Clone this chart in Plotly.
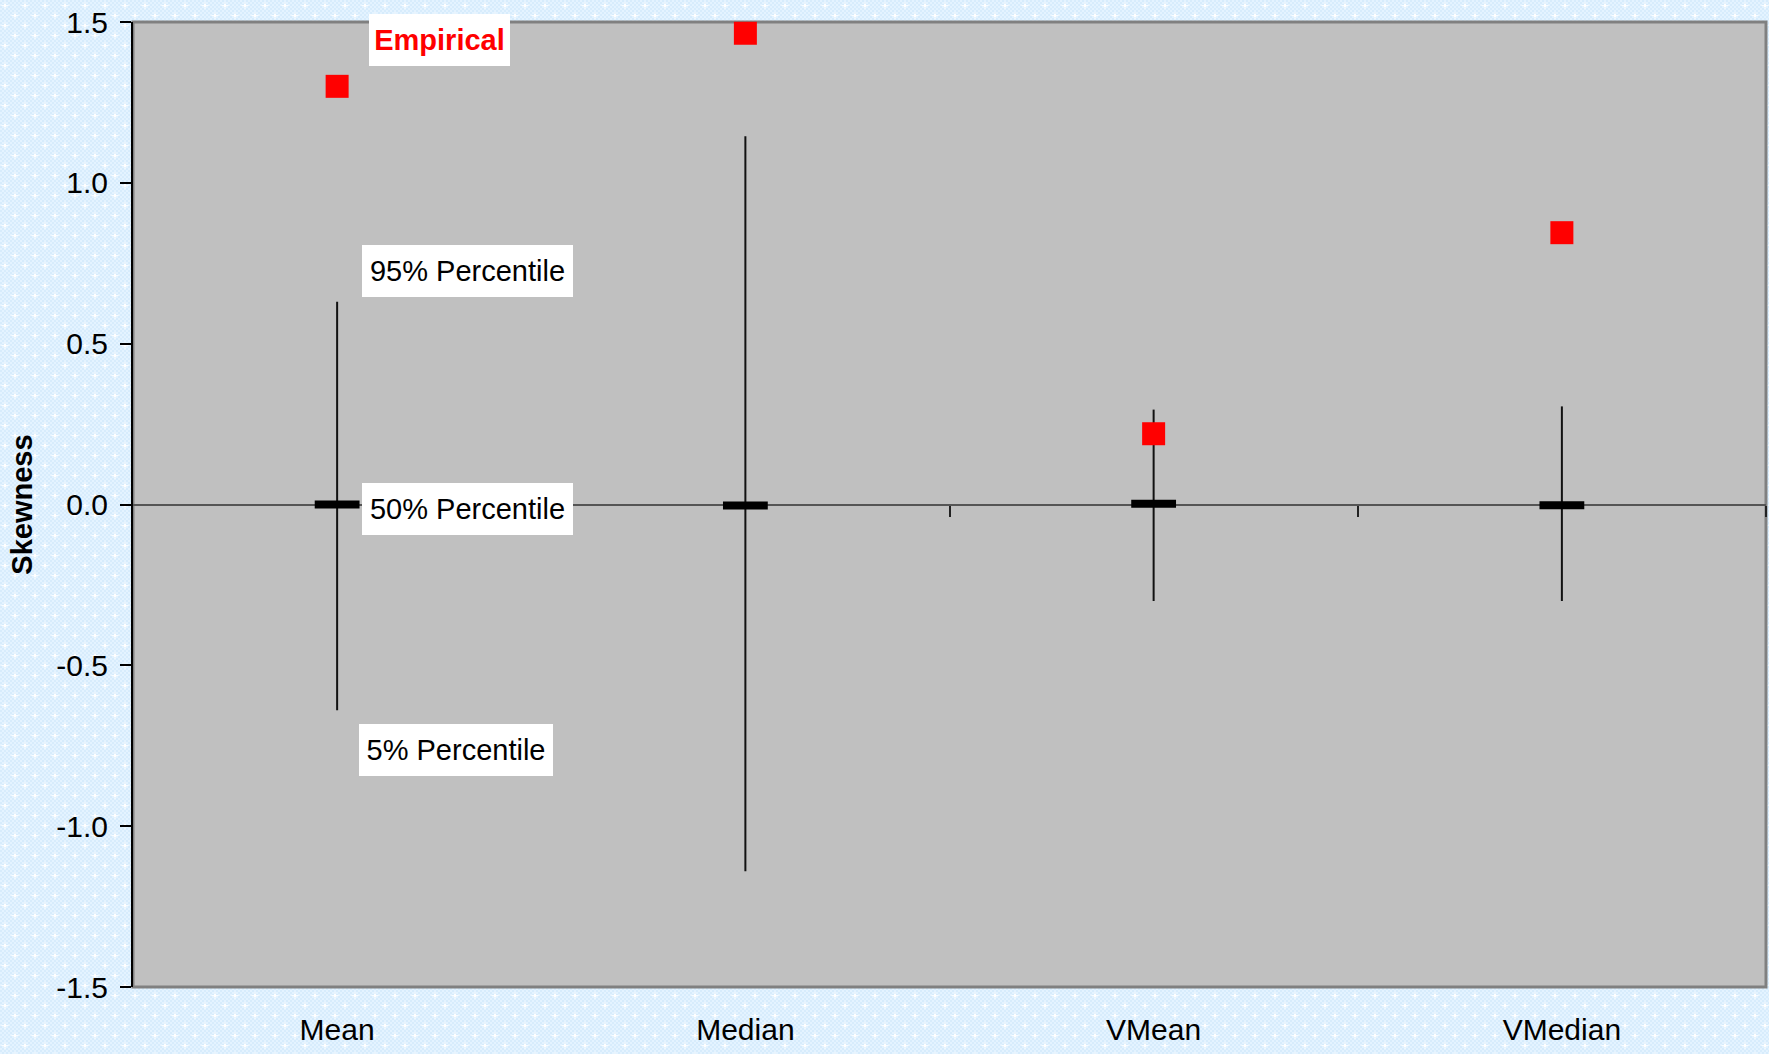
import base64
import plotly.graph_objects as go

# Skewness of the estimators: 5/50/95 % percentiles of the simulated
# distribution, plus the empirical value
categories = ["Mean", "Median", "VMean", "VMedian"]
pct5 = [-0.64, -1.14, -0.30, -0.30]
pct50 = [0.0, -0.003, 0.002, -0.002]
pct95 = [0.63, 1.145, 0.295, 0.305]
empirical = [1.30, 1.465, 0.22, 0.845]

ytick_vals = [-1.5, -1.0, -0.5, 0.0, 0.5, 1.0, 1.5]
ytick_text = ["-1.5", "-1.0", "-0.5", "0.0", "0.5", "1.0", "1.5"]

# free-floating labels (text, x in category units, y in skewness units)
label_text = ["Empirical", "95% Percentile", "50% Percentile", "5% Percentile"]
label_x = [0.25, 0.319, 0.319, 0.29]
label_y = [1.444, 0.727, -0.014, -0.764]

# label box styling
label_color = ["#ff0000", "#000000", "#000000", "#000000"]
label_bold = [True, False, False, False]
label_box_w = [137, 207, 207, 190]

W, H = 1769, 1054
ML, MR, MT, MB = 133, 3, 22, 67
FONT = "Arial, Liberation Sans, sans-serif"

err_up = [hi - md for hi, md in zip(pct95, pct50)]
err_dn = [md - lo for lo, md in zip(pct5, pct50)]

fig = go.Figure()

# percentile range (whisker) with the 50 % percentile as a thick dash
fig.add_trace(go.Scatter(
    x=categories, y=pct50, mode="markers",
    marker=dict(symbol="line-ew", size=32, color="#000000",
                line=dict(width=8, color="#000000")),
    error_y=dict(type="data", symmetric=False, array=err_up,
                 arrayminus=err_dn, width=0, thickness=2, color="#111111"),
    showlegend=False, hoverinfo="skip",
))

# empirical skewness
fig.add_trace(go.Scatter(
    x=categories, y=empirical, mode="markers",
    marker=dict(symbol="square", size=23, color="#ff0000",
                line=dict(width=0)),
    showlegend=False, cliponaxis=False,
))

# light-blue patterned page background
pattern_svg = f'''<svg xmlns="http://www.w3.org/2000/svg" width="{W}" height="{H}">
<defs>
<pattern id="chk" width="4" height="4" patternUnits="userSpaceOnUse">
<rect width="4" height="4" fill="#d7ecfc"/>
<rect width="2" height="2" fill="#e4f3ff"/>
<rect x="2" y="2" width="2" height="2" fill="#e4f3ff"/>
</pattern>
<pattern id="star" width="20" height="20" patternUnits="userSpaceOnUse">
<rect width="20" height="20" fill="url(#chk)"/>
<path d="M5 2v7M1.5 5.5h7M15 12v7M11.5 15.5h7" stroke="#ffffff" stroke-width="1" opacity="0.85"/>
<rect x="4" y="4" width="2" height="3" fill="#ffffff"/>
<rect x="14" y="14" width="2" height="3" fill="#ffffff"/>
</pattern>
</defs>
<rect width="100%" height="100%" fill="url(#star)"/>
</svg>'''
bg_uri = "data:image/svg+xml;base64," + base64.b64encode(pattern_svg.encode()).decode()
pw, ph = W - ML - MR, H - MT - MB
fig.add_layout_image(dict(
    source=bg_uri, xref="paper", yref="paper",
    x=-ML / pw, y=1 + MT / ph, sizex=W / pw, sizey=H / ph,
    xanchor="left", yanchor="top", sizing="stretch", layer="below",
))

# plot area fill and grey frame
fig.add_shape(type="rect", xref="paper", yref="paper", x0=0, x1=1, y0=0, y1=1,
              fillcolor="#c0c0c0", line=dict(color="#808080", width=3),
              layer="below")

for t, x, y, c, b, bw in zip(label_text, label_x, label_y, label_color,
                             label_bold, label_box_w):
    fig.add_annotation(
        x=x, y=y, xref="x", yref="y", showarrow=False,
        text=f"<b>{t}</b>" if b else t,
        font=dict(family=FONT, size=29, color=c),
        width=bw, height=48, align="center", valign="middle",
        bgcolor="#ffffff", borderpad=2, borderwidth=0,
    )

fig.update_layout(
    width=W, height=H,
    margin=dict(l=ML, r=MR, t=MT, b=MB, pad=0),
    paper_bgcolor="#dcefff", plot_bgcolor="rgba(0,0,0,0)",
    font=dict(family=FONT, size=30, color="#000000"),
    showlegend=False,
    xaxis=dict(
        type="category", categoryorder="array", categoryarray=categories,
        range=[-0.5, 3.5], showgrid=False, zeroline=False, showline=False,
        ticks="", ticklabelstandoff=22,
        tickfont=dict(family=FONT, size=30, color="#000000"),
    ),
    # horizontal axis line through zero with ticks between categories
    xaxis2=dict(
        type="linear", overlaying="x", anchor="free", position=0.5,
        range=[-0.5, 3.5], tickvals=[0.5, 1.5, 2.5, 3.5],
        showticklabels=False, ticks="outside", ticklen=11, tickwidth=2,
        tickcolor="#222222", showline=True, linecolor="#555555", linewidth=2,
        showgrid=False, zeroline=False, layer="below traces",
    ),
    yaxis=dict(
        range=[-1.5, 1.5], tickvals=ytick_vals, ticktext=ytick_text,
        showgrid=False, zeroline=False, showline=True, linecolor="#000000",
        linewidth=2, ticks="outside", ticklen=11, tickwidth=2,
        tickcolor="#000000", ticklabelstandoff=6,
        tickfont=dict(family=FONT, size=30, color="#000000"),
        title=dict(text="<b>Skewness</b>", standoff=15,
                   font=dict(family=FONT, size=29, color="#000000")),
    ),
)

# an invisible trace so that xaxis2 is drawn
fig.add_trace(go.Scatter(x=[None], y=[None], xaxis="x2", yaxis="y",
                         showlegend=False, hoverinfo="skip"))

fig.write_html("out.html")
